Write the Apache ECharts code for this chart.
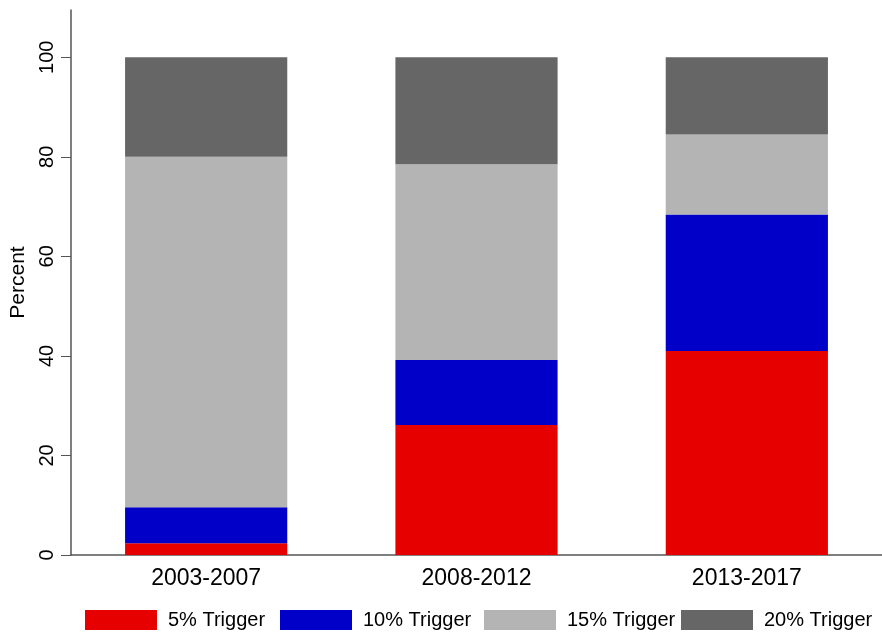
<!DOCTYPE html>
<html>
<head>
<meta charset="utf-8">
<script src="https://cdn.jsdelivr.net/npm/echarts@6/dist/echarts.min.js"></script>
<style>html,body{margin:0;padding:0;background:#fff;}#c{width:882px;height:635px;}</style>
</head>
<body>
<div id="c"></div>
<script>
const categories = ['2003-2007', '2008-2012', '2013-2017'];
const seriesNames = ['5% Trigger', '10% Trigger', '15% Trigger', '20% Trigger'];
const trigger5 = [2.35, 26.1, 41.0];
const trigger10 = [7.25, 13.1, 27.4];
const trigger15 = [70.4, 39.3, 16.1];
const trigger20 = [20.0, 21.5, 15.5];
const yTicks = [0, 20, 40, 60, 80, 100];
const colors = ['#e60000', '#0000c8', '#b4b4b4', '#666666'];
const legendLeft = [85, 280, 484, 681];

const font = 'Liberation Sans, Arial, sans-serif';
const values = [trigger5, trigger10, trigger15, trigger20];
const chart = echarts.init(document.getElementById('c'), null, {renderer: 'canvas'});
chart.setOption({
  animation: false,
  backgroundColor: '#fff',
  grid: {left: 68.5, right: 0, top: 10, bottom: 80, containLabel: false},
  legend: seriesNames.map((n, i) => ({
    data: [n],
    left: legendLeft[i],
    top: 610,
    padding: 0,
    itemWidth: 72,
    itemHeight: 20,
    icon: 'rect',
    selectedMode: false,
    textStyle: {fontFamily: font, fontSize: 20, color: '#000', padding: [0, 0, 0, 6]}
  })),
  xAxis: {
    type: 'category',
    data: categories,
    axisLine: {show: true, lineStyle: {color: '#555', width: 1.5}},
    axisTick: {show: false},
    axisLabel: {fontFamily: font, fontSize: 23, color: '#000', margin: 12},
    splitLine: {show: false}
  },
  yAxis: {
    type: 'value',
    min: 0,
    max: 109.5,
    interval: 20,
    name: 'Percent',
    nameLocation: 'middle',
    nameRotate: 90,
    nameGap: 42,
    nameTextStyle: {fontFamily: font, fontSize: 21, color: '#000'},
    axisLine: {show: true, lineStyle: {color: '#555', width: 1.5}},
    axisTick: {show: true, length: 10, lineStyle: {color: '#555', width: 1}, customValues: yTicks},
    axisLabel: {fontFamily: font, fontSize: 20, color: '#000', rotate: 90, margin: 14, customValues: yTicks},
    splitLine: {show: false}
  },
  series: seriesNames.map((n, i) => ({
    name: n,
    type: 'bar',
    stack: 'total',
    data: values[i],
    barWidth: '60%',
    itemStyle: {color: colors[i]}
  }))
});
</script>
</body>
</html>
